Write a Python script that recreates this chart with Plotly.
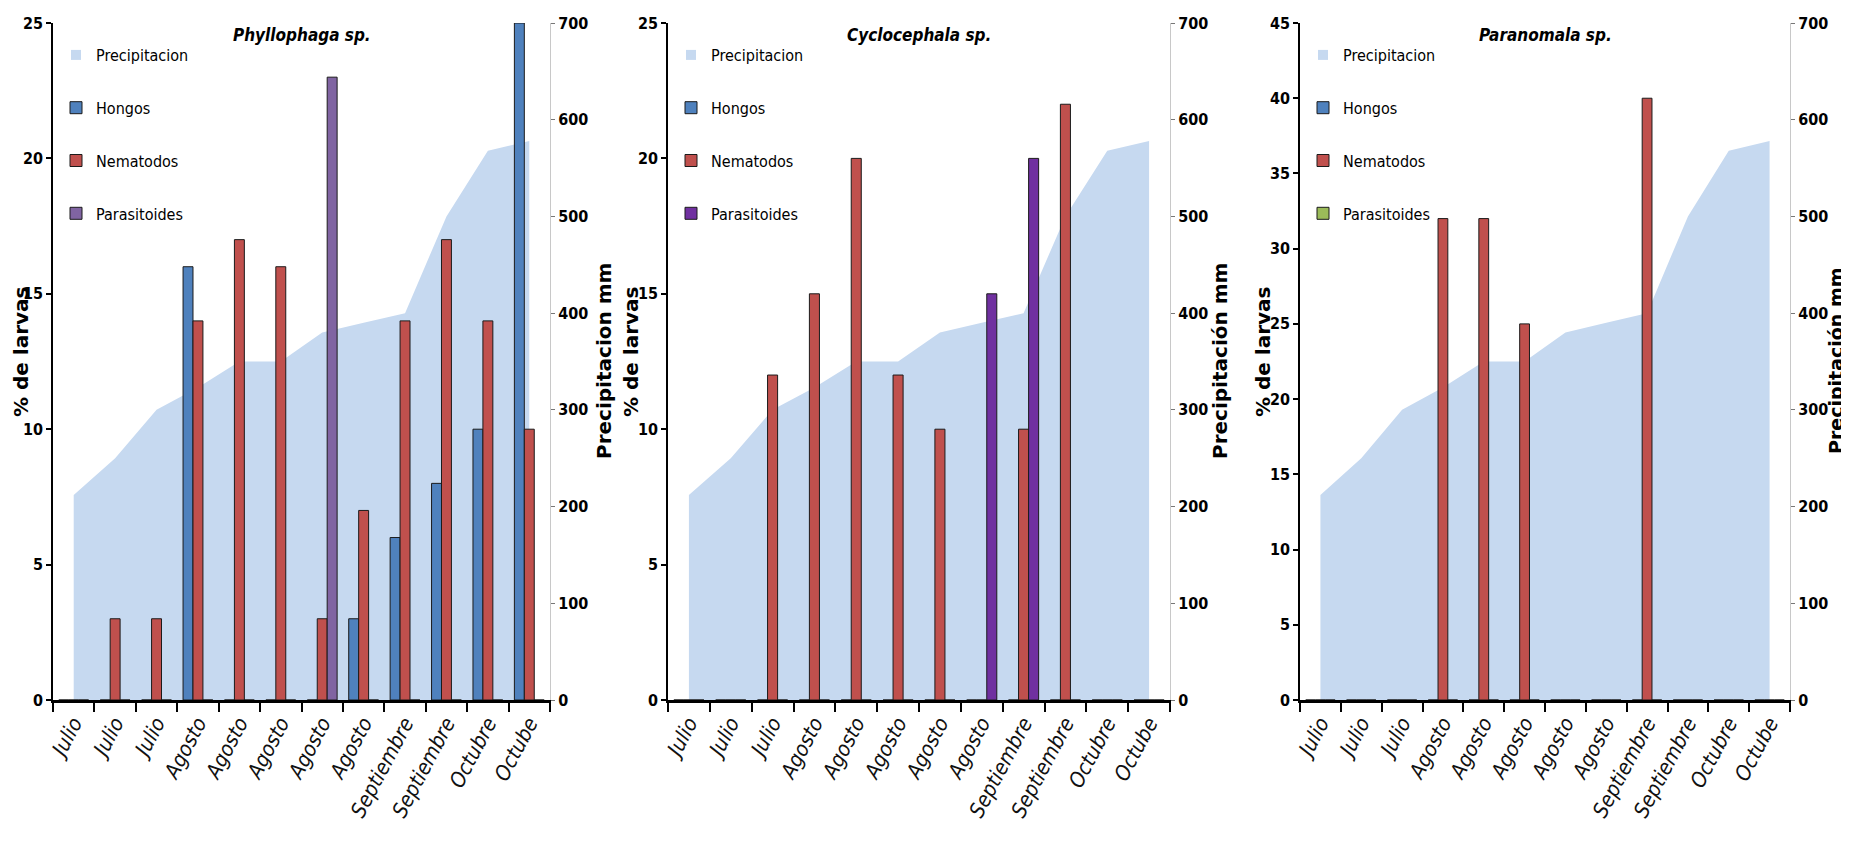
import plotly.graph_objects as go

# ---------------- data ----------------
months = ["Julio", "Julio", "Julio", "Agosto", "Agosto", "Agosto", "Agosto", "Agosto",
          "Septiembre", "Septiembre", "Octubre", "Octube"]
precip = [212, 250, 300, 323, 350, 350, 380, 390, 400, 500, 568, 578]

titles = ["Phyllophaga sp.", "Cyclocephala sp.", "Paranomala sp."]
right_titles = ["Precipitacion mm", "Precipitación mm", "Precipitación mm"]
left_title = "% de larvas"

phy_hongos = [0, 0, 0, 16, 0, 0, 0, 3, 6, 8, 10, 25]
phy_nema = [0, 3, 3, 14, 17, 16, 3, 7, 14, 17, 14, 10]
phy_para = [0, 0, 0, 0, 0, 0, 23, 0, 0, 0, 0, 0]

cyc_hongos = [0, 0, 0, 0, 0, 0, 0, 0, 0, 0, 0, 0]
cyc_nema = [0, 0, 12, 15, 20, 12, 10, 0, 10, 22, 0, 0]
cyc_para = [0, 0, 0, 0, 0, 0, 0, 15, 20, 0, 0, 0]

par_hongos = [0, 0, 0, 0, 0, 0, 0, 0, 0, 0, 0, 0]
par_nema = [0, 0, 0, 32, 32, 25, 0, 0, 40, 0, 0, 0]
par_para = [0, 0, 0, 0, 0, 0, 0, 0, 0, 0, 0, 0]

left_max = [25, 25, 45]
series_names = ["Hongos", "Nematodos", "Parasitoides"]
panels = [
    [phy_hongos, phy_nema, phy_para],
    [cyc_hongos, cyc_nema, cyc_para],
    [par_hongos, par_nema, par_para],
]
para_colors = ["#8064A2", "#7030A0", "#9BBB59"]

# ---------------- styling ----------------
OFF = 8                      # page body margin
W, H = 1849 - OFF, 846 - OFF
NARROW = "DejaVu Sans Condensed, Liberation Sans Narrow, Liberation Sans, sans-serif"
WIDE = "DejaVu Sans, Liberation Sans, Arial, sans-serif"


def fx(px):
    return (px - OFF) / W


def fy(py):
    return 1 - (py - OFF) / H


# positions below are in page pixels
panel_px = [(53, 550), (668, 1170), (1300, 1790)]
left_title_x = [21, 631, 1263]
right_title_x = [604, 1220, 1836]
y_top, y_bot = 23, 700
ydom = [fy(y_bot), fy(y_top)]
area_color = "#C6D9F0"
x_idx = list(range(len(months)))

fig = go.Figure()
layout = dict(
    width=W, height=H, margin=dict(l=0, r=0, t=0, b=0, autoexpand=False),
    paper_bgcolor="white", plot_bgcolor="white",
    barmode="group", bargap=0.28, bargroupgap=0,
    annotations=[],
)

for i in range(3):
    xid = "x" if i == 0 else f"x{i + 1}"
    yb = 2 * i + 1   # precipitation axis (base, right side)
    yo = 2 * i + 2   # bars axis (overlay, left side)
    yb_id = "y" if yb == 1 else f"y{yb}"
    yo_id = f"y{yo}"
    leg_id = "legend" if i == 0 else f"legend{i + 1}"

    # precipitation area (legend shown through a square swatch entry)
    fig.add_trace(go.Scatter(
        x=x_idx, y=precip, name="Precipitacion", mode="none",
        fill="tozeroy", fillcolor=area_color, showlegend=False,
        xaxis=xid, yaxis=yb_id, legend=leg_id, legendgroup=f"p{i}a",
    ))
    fig.add_trace(go.Scatter(
        x=[None], y=[None], name="Precipitacion", mode="markers",
        marker=dict(symbol="square", size=10, color=area_color),
        xaxis=xid, yaxis=yb_id, legend=leg_id, legendgroup=f"p{i}a",
    ))
    colors = ["#4F81BD", "#C0504D", para_colors[i]]
    for s, vals in enumerate(panels[i]):
        fig.add_trace(go.Bar(
            x=x_idx, y=vals, name=series_names[s],
            marker=dict(color=colors[s], line=dict(color="#1b1b1b", width=1)),
            xaxis=xid, yaxis=yo_id, legend=leg_id, legendgroup=f"p{i}{s}",
        ))

    x0, x1 = panel_px[i]
    xkey = "xaxis" if i == 0 else f"xaxis{i + 1}"
    layout[xkey] = dict(
        domain=[fx(x0), fx(x1)], anchor=yb_id, range=[-0.5, len(months) - 0.5],
        tickmode="array", tickvals=x_idx, ticktext=[f"<i>{m}</i>" for m in months],
        ticks="", tickangle=-62, automargin=False,
        tickfont=dict(family=NARROW, size=21, color="#111", style="italic"),
        showline=True, linecolor="black", linewidth=2.5,
        showgrid=False, zeroline=False,
        minor=dict(tickvals=[v - 0.5 for v in range(len(months) + 1)],
                   ticks="outside", ticklen=9, tickwidth=1.5, tickcolor="black",
                   showgrid=False),
    )
    ybkey = "yaxis" if yb == 1 else f"yaxis{yb}"
    layout[ybkey] = dict(
        domain=ydom, anchor=xid, side="right", range=[0, 700],
        tickmode="linear", tick0=0, dtick=100, automargin=False,
        ticks="outside", ticklen=4, tickcolor="#777", tickwidth=1,
        showline=True, linecolor="#C8C8C8", linewidth=1,
        showgrid=False, zeroline=False,
        tickfont=dict(family=NARROW, size=16, color="black", weight="bold"),
    )
    layout[f"yaxis{yo}"] = dict(
        domain=ydom, anchor=xid, overlaying=yb_id, side="left",
        range=[0, left_max[i]], tickmode="linear", tick0=0, dtick=5,
        automargin=False,
        ticks="outside", ticklen=5, tickcolor="black", tickwidth=1.5,
        showline=True, linecolor="black", linewidth=1.5,
        showgrid=False, zeroline=False,
        tickfont=dict(family=NARROW, size=16, color="black", weight="bold"),
    )
    layout[leg_id] = dict(
        x=fx(x0 + 3), y=fy(38), xanchor="left", yanchor="top",
        bgcolor="rgba(0,0,0,0)", borderwidth=0,
        font=dict(family=NARROW, size=16, color="black"),
        tracegroupgap=29, itemwidth=30, traceorder="grouped",
    )
    # panel title
    layout["annotations"].append(dict(
        text=f"<b><i>{titles[i]}</i></b>", xref="paper", yref="paper",
        x=fx((x0 + x1) / 2), y=fy(35), xanchor="center", yanchor="middle",
        showarrow=False, font=dict(family=NARROW, size=17, color="black"),
    ))
    # axis titles
    layout["annotations"].append(dict(
        text=f"<b>{left_title}</b>", xref="paper", yref="paper",
        x=fx(left_title_x[i]), y=fy(352), xanchor="center", yanchor="middle",
        textangle=-90, showarrow=False,
        font=dict(family=WIDE, size=20, color="black"),
    ))
    layout["annotations"].append(dict(
        text=f"<b>{right_titles[i]}</b>", xref="paper", yref="paper",
        x=fx(right_title_x[i]), y=fy(361), xanchor="center", yanchor="middle",
        textangle=-90, showarrow=False,
        font=dict(family=WIDE, size=20 if i < 2 else 19, color="black"),
    ))

fig.update_layout(**layout)
fig.write_html("out.html")
